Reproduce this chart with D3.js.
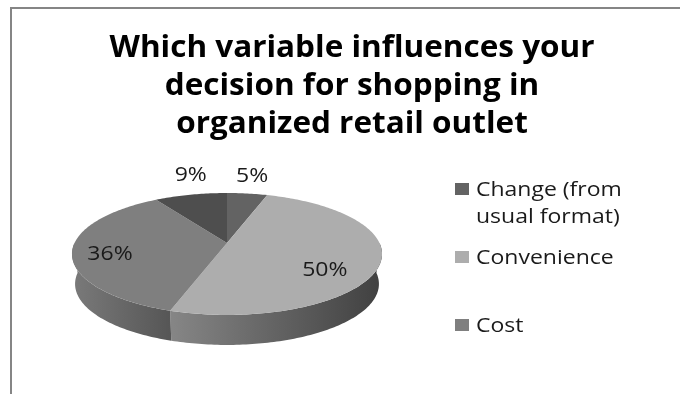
<!DOCTYPE html>
<html>
<head>
<meta charset="utf-8">
<script src="https://cdn.jsdelivr.net/npm/d3@7"></script>
<style>
  html, body { margin: 0; padding: 0; background: #fff; }
  svg { display: block; filter: blur(0.45px); }
  text { font-family: "Open Sans", sans-serif; fill: #1a1a1a; }
</style>
</head>
<body>
<div id="chart"></div>
<script>
// Data, starting at 12 o'clock and going clockwise
const sliceNames = ["Change (from usual format)", "Convenience", "Cost", ""];
const sliceValues = [5, 50, 36, 9];
const sliceLabels = ["5%", "50%", "36%", "9%"];
const sliceColors = ["#636363", "#adadad", "#7f7f7f", "#4e4e4e"];
const titleLines = ["Which variable influences your", "decision for shopping in", "organized retail outlet"];
const legendLines = [["Change (from", "usual format)"], ["Convenience"], ["Cost"]];

const width = 680, height = 394;
const textStretch = 1.15; // the reference text is stretched sideways

const svg = d3.select("#chart").append("svg")
    .attr("width", width)
    .attr("height", height);

// Frame (only top and left edges are in the crop)
svg.append("path")
    .attr("d", `M11,${height} V8 H${width}`)
    .attr("fill", "none")
    .attr("stroke", "#858585")
    .attr("stroke-width", 2);

// Title
svg.append("g").selectAll("text")
    .data(titleLines)
    .enter().append("text")
    .attr("transform", (d, i) => `translate(352,${57 + i * 38}) scale(1.05,1)`)
    .attr("text-anchor", "middle")
    .style("font-size", "30px")
    .style("font-weight", "700")
    .style("fill", "#000")
    .text(d => d);

// 3D pie: flat circle seen in perspective
const cx = 227, cy = 243, rx = 152.5, ry = 59, persp = 0.18, depth = 30;

function project(angle, r = 1) {
    const u = r * Math.sin(angle), v = r * Math.cos(angle);
    const w = 1 + persp * v;
    return [cx + rx * u / w, cy - ry * v / w];
}

const pie = d3.pie().sort(null).value(d => d);
const slices = pie(sliceValues);
const outline = d3.line();
const step = Math.PI / 180;

function arcPoints(a0, a1) {
    return d3.range(a0, a1, step).concat([a1]).map(a => project(a));
}

const defs = svg.append("defs");

// Walls of the front half, each with its own left and right shade
const wallShades = [["#868686", "#404040"], ["#7a7a7a", "#565656"]];
const frontStart = Math.PI / 2, frontEnd = Math.PI * 3 / 2;

const walls = [slices[1], slices[2]].map((s, i) => ({
    a0: Math.max(s.startAngle, frontStart),
    a1: Math.min(s.endAngle, frontEnd),
    shade: wallShades[i]
}));

walls.forEach((d, i) => {
    const pts = arcPoints(d.a0, d.a1);
    const xs = d3.extent(pts, p => p[0]);
    const grad = defs.append("linearGradient")
        .attr("id", `wall${i}`)
        .attr("gradientUnits", "userSpaceOnUse")
        .attr("x1", xs[0]).attr("x2", xs[1])
        .attr("y1", 0).attr("y2", 0);
    grad.append("stop").attr("offset", 0).attr("stop-color", d.shade[0]);
    grad.append("stop").attr("offset", 1).attr("stop-color", d.shade[1]);

    // bottom rim is a little narrower than the top one
    const lower = pts.map(p => [cx + (p[0] - cx) * 0.98, p[1] + depth]).reverse();
    svg.append("path")
        .attr("d", outline(pts.concat(lower)) + "Z")
        .attr("fill", `url(#wall${i})`);
});

// Top faces
svg.append("g").selectAll("path")
    .data(slices)
    .enter().append("path")
    .attr("d", d => outline([[cx, cy]].concat(arcPoints(d.startAngle, d.endAngle))) + "Z")
    .attr("fill", (d, i) => sliceColors[i]);

// Percent labels
const labelRadius = [1.3, 0.65, 0.76, 1.0];
const labelShift = [-7, 13, 4, -21];

svg.append("g").selectAll("text")
    .data(slices)
    .enter().append("text")
    .attr("transform", (d, i) => {
        const p = project((d.startAngle + d.endAngle) / 2, labelRadius[i]);
        return `translate(${p[0]},${p[1] + labelShift[i]}) scale(${textStretch},1)`;
    })
    .attr("dy", "0.36em")
    .attr("text-anchor", "middle")
    .style("font-size", "20px")
    .text((d, i) => sliceLabels[i]);

// Legend
const legendY = [189, 257, 325];

const legend = svg.append("g").selectAll("g")
    .data(legendLines)
    .enter().append("g")
    .attr("transform", (d, i) => `translate(455,${legendY[i]})`);

legend.append("rect")
    .attr("y", -6)
    .attr("width", 14)
    .attr("height", 12)
    .attr("fill", (d, i) => sliceColors[i]);

legend.selectAll("text")
    .data(d => d)
    .enter().append("text")
    .attr("transform", (d, i) => `translate(21,${i * 27}) scale(${textStretch},1)`)
    .attr("dy", "0.36em")
    .style("font-size", "20px")
    .text(d => d);
</script>
</body>
</html>
